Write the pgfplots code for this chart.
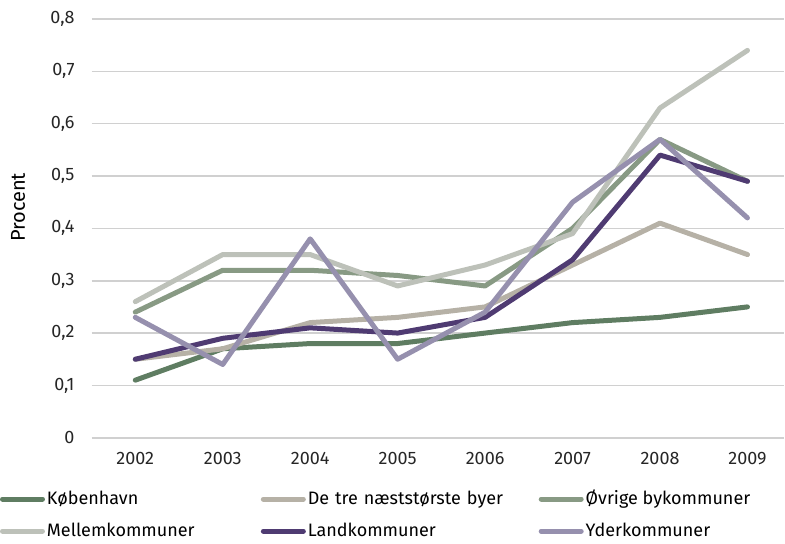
\documentclass[border=0pt]{standalone}
\usepackage{pgfplots}
\pgfplotsset{compat=1.18}
\usepackage{fontspec}
\setmainfont{Fira Sans}

\definecolor{kbh}{HTML}{5F7D62}
\definecolor{tre}{HTML}{B6B1A6}
\definecolor{ovr}{HTML}{889A84}
\definecolor{mel}{HTML}{BDC1B9}
\definecolor{land}{HTML}{4F3B72}
\definecolor{yder}{HTML}{9690AE}
\definecolor{gridc}{HTML}{D0D0D0}

\begin{document}
\begin{tikzpicture}
\begin{axis}[
  name=ax,
  scale only axis,
  width=346.5pt, height=209.5pt,
  xmin=-0.5, xmax=7.42,
  ymin=0, ymax=0.8,
  axis line style={draw=none},
  major tick length=0pt,
  xtick={0,...,7},
  xticklabels={2002,2003,2004,2005,2006,2007,2008,2009},
  ytick={0,0.1,...,0.8},
  ymajorgrids,
  grid style={gridc, line width=0.8pt},
  yticklabel style={xshift=-5pt, /pgf/number format/fixed, /pgf/number format/precision=1, /pgf/number format/use comma},
  /pgf/number format/assume math mode=true,
  tick label style={font=\fontsize{9}{11}\selectfont, text=black!85},
  xticklabel style={yshift=-3.5pt},
  ylabel={Procent},
  ylabel style={font=\fontsize{9}{11}\selectfont},
  every axis y label/.style={at={(axis description cs:-0.106,0.55)}, rotate=90, anchor=center},
  legend columns=3,
  legend style={at={(rel axis cs:0,0)}, anchor=north west, xshift=-46pt, yshift=-24pt,
    draw=none, font=\fontsize{9}{11}\selectfont, inner sep=0pt, row sep=3.5pt,
    /tikz/column 2/.style={text width=106pt},
    /tikz/column 4/.style={text width=114.5pt},
    nodes={inner xsep=1pt, anchor=west}},
  legend cell align=left,
  legend image code/.code={\draw[#1, line cap=round] (0pt,0pt) -- (20pt,0pt);},
  every axis plot/.append style={line width=2.5pt, line join=round, line cap=round, mark=none},
]
\addplot[kbh] coordinates {(0,0.11) (1,0.17) (2,0.18) (3,0.18) (4,0.20) (5,0.22) (6,0.23) (7,0.25)};
\addlegendentry{København}
\addplot[tre] coordinates {(0,0.15) (1,0.17) (2,0.22) (3,0.23) (4,0.25) (5,0.33) (6,0.41) (7,0.35)};
\addlegendentry{De tre næststørste byer}
\addplot[ovr] coordinates {(0,0.24) (1,0.32) (2,0.32) (3,0.31) (4,0.29) (5,0.40) (6,0.57) (7,0.49)};
\addlegendentry{Øvrige bykommuner}
\addplot[mel] coordinates {(0,0.26) (1,0.35) (2,0.35) (3,0.29) (4,0.33) (5,0.39) (6,0.63) (7,0.74)};
\addlegendentry{Mellemkommuner}
\addplot[land] coordinates {(0,0.15) (1,0.19) (2,0.21) (3,0.20) (4,0.23) (5,0.34) (6,0.54) (7,0.49)};
\addlegendentry{Landkommuner}
\addplot[yder] coordinates {(0,0.23) (1,0.14) (2,0.38) (3,0.15) (4,0.24) (5,0.45) (6,0.57) (7,0.42)};
\addlegendentry{Yderkommuner}
\end{axis}
\path ([yshift=9.5pt]ax.north west);
\end{tikzpicture}
\end{document}
